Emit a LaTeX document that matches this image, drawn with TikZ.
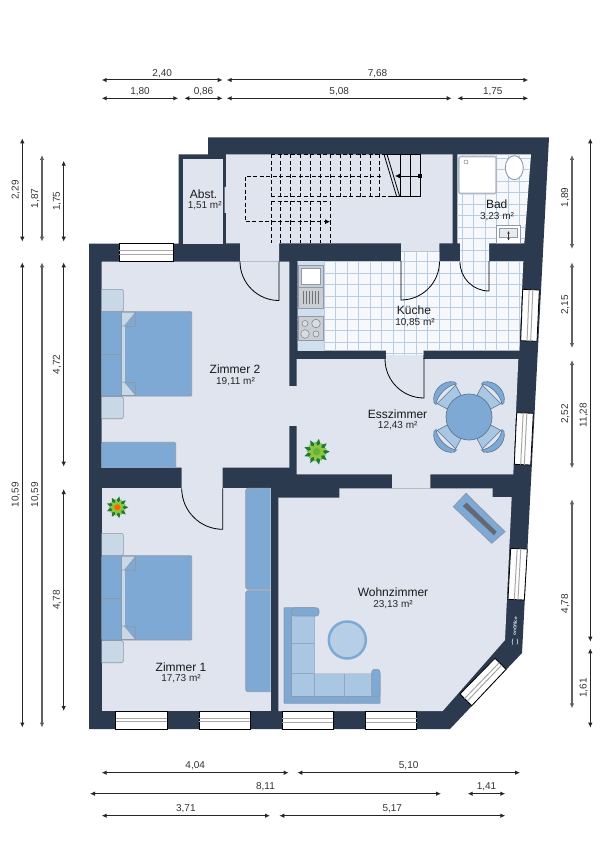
\documentclass[tikz,border=0pt]{standalone}
\usepackage{fontspec}
\setmainfont{Liberation Sans}
\usepackage{tikz}
\usetikzlibrary{calc}
\usetikzlibrary{arrows.meta}
\definecolor{wallblue}{HTML}{2C3A50}
\definecolor{roomgrey}{HTML}{DFE4EE}
\definecolor{bedblue}{HTML}{7FA9D5}
\definecolor{palegrey}{HTML}{C9D8E6}
\definecolor{seatblue}{HTML}{A9C6E3}
\definecolor{edgegrey}{HTML}{8D9AAB}
\definecolor{tileline}{HTML}{B8CDE3}
\definecolor{tilewhite}{HTML}{F6F8FC}
\definecolor{steel}{HTML}{C9CED5}
\definecolor{plantdark}{HTML}{1F7A3A}
\definecolor{plantlight}{HTML}{8CC63F}
\tikzset{
  dimtip/.tip={Latex[length=5pt,width=4.6pt]},
  dimline/.style={{dimtip}-{dimtip},line width=1pt,color=black!85},
  dimpale/.style={{dimtip}-{dimtip},line width=1.2pt,color=black!62},
  dimtext/.style={font=\fontsize{10}{12}\selectfont,text=black!80,inner sep=2pt,anchor=south},
  roomname/.style={font=\fontsize{12}{14}\selectfont,text=black!90,inner sep=0pt},
  roomarea/.style={font=\fontsize{10}{12}\selectfont,text=black!85,inner sep=0pt},
  room/.style={fill=roomgrey},
  doorline/.style={line width=0.8pt,color=black},
  winframe/.style={fill=white,draw=black,line width=0.8pt},
  winbar/.style={color=black!35,line width=1pt},
  furn/.style={fill=bedblue,draw=edgegrey,line width=0.8pt},
  furnpale/.style={fill=palegrey,draw=palegrey!70!black,line width=0.6pt},
  stairdash/.style={dashed,dash pattern=on 4pt off 2.5pt,line width=0.9pt},
  stairline/.style={line width=0.8pt},
  chairseat/.style={fill=seatblue,draw=bedblue!70!black,line width=0.6pt},
  chairback/.style={fill=bedblue,draw=bedblue!70!black,line width=0.6pt},
}
% dimension lines: name, fixed position, from, to, text
\newcommand\dimh[6][dimline]{\draw[#1] (#4,#3) -- (#5,#3) node[dimtext,midway] (#2) {#6};}
\newcommand\dimv[7][dimline]{\draw[#1] (#3,#5) -- (#3,#4) node[dimtext,rotate=90,pos=#6] (#2) {#7};}
\newcommand\winplan[4]{
\draw[winframe] (#1) -- (#2) -- (#3) -- (#4) -- cycle;
\foreach \t in {0.39,0.61} {
\draw[winbar] ($(#1)!\t!(#2)$) -- ($(#4)!\t!(#3)$);
}
}
\newcommand\tilegrid[4]{
\foreach \i in {#1,...,#2} {
\draw[tileline,line width=0.8pt] ({2+11.5*\i},140) -- ({2+11.5*\i},365);
}
\foreach \j in {#3,...,#4} {
\draw[tileline,line width=0.8pt] (285,{-2.7+11.5*\j}) -- (535,{-2.7+11.5*\j});
}
}
\newcommand\bedplan[1]{
\begin{scope}[shift={(0,#1)}]
\draw[furnpale,rounded corners=1.5pt] (101.7,289.3) -- (123.3,289.3) -- (123.3,311.7) -- (101.7,311.7);
\draw[furnpale,rounded corners=1.5pt] (101.7,396.5) -- (123.3,396.5) -- (123.3,418.7) -- (101.7,418.7);
\draw[furn,rounded corners=1pt] (101.7,311.7) rectangle (191.7,396);
\fill[palegrey] (121.7,312.2) rectangle (124.5,395.5);
\draw[furnpale,draw=edgegrey] (121.7,312.2) -- (135.7,312.2) -- (124.5,326) -- (121.7,326);
\draw[furnpale,draw=edgegrey] (121.7,395.5) -- (135.7,395.5) -- (124.5,382) -- (121.7,382);
\draw[edgegrey,line width=0.6pt] (124.5,326) -- (135.7,326) -- (135.7,312.2);
\draw[edgegrey,line width=0.6pt] (124.5,382) -- (135.7,382) -- (135.7,395.5);
\draw[edgegrey,line width=0.6pt] (101.7,354) -- (121.7,354) (121.7,311.7) -- (121.7,396);
\end{scope}
}
\newcommand\plantplan[4]{ % x, y, radius, core colour
\begin{scope}[shift={(#1,#2)}]
\foreach \a in {0,40,...,320} {
\fill[plantdark,rotate=\a] (#3,0) -- ({0.3*#3},{0.34*#3}) -- ({0.3*#3},{-0.34*#3}) -- cycle;
}
\foreach \a in {20,60,...,340} {
\fill[plantlight,rotate=\a] ({0.82*#3},0) -- ({0.2*#3},{0.25*#3}) -- ({0.2*#3},{-0.25*#3}) -- cycle;
}
\fill[#4] (0,0) circle ({0.28*#3});
\end{scope}
}
\begin{document}
\begin{tikzpicture}[x=1pt,y=-1pt]
\useasboundingbox (0,0) rectangle (600,850);
% walls
\fill[wallblue] (89,243.5) -- (178.5,243.5) -- (178.5,154.5) -- (208,154.5) -- (208,137.5) -- (549,137.5) -- (522,653) -- (450,729) -- (89,729) -- cycle;
% rooms
\fill[room] (183.3,159.3) rectangle (223.3,243.5);
\fill[room] (226,154.3) -- (452.7,154.3) -- (452.7,243.3) -- (439.3,243.3) -- (439.3,251.7) -- (401,251.7) -- (401,243.3) -- (279,243.3) -- (279,261.5) -- (240,261.5) -- (240,243.3) -- (226,243.3) -- (226,213) -- (224.5,213) -- (224.5,187) -- (226,187) -- cycle;
\fill[room] (101.7,261.5) -- (289.3,261.5) -- (289.3,467.7) -- (222.7,467.7) -- (222.7,488.3) -- (181.7,488.3) -- (181.7,467.7) -- (101.7,467.7) -- cycle;
\fill[room] (101.7,488.3) rectangle (270.7,711);
\fill[room] (289,386) rectangle (297.5,425.7);
\fill[room] (296.7,359) -- (386,359) -- (386,350.7) -- (423.3,350.7) -- (423.3,359) -- (518.3,359) -- (513.3,474.3) -- (430.3,474.3) -- (430.3,488.3) -- (392,488.3) -- (392,474.3) -- (296.7,474.3) -- cycle;
\fill[room] (278.3,497.7) -- (339.3,497.7) -- (339.3,488.3) -- (492.7,488.3) -- (492.7,497) -- (511.7,497) -- (505,640) -- (442.7,711) -- (278.3,711) -- cycle;
% tiles
\begin{scope}
\clip (297.7,261) -- (401,261) -- (401,251.7) -- (439.3,251.7) -- (439.3,261) -- (523.3,261) -- (519.3,350.7) -- (423.3,350.7) -- (423.3,355) -- (386,355) -- (386,350.7) -- (297.7,350.7) -- cycle;
\fill[tilewhite] (290,250) rectangle (530,360);
\tilegrid{25}{46}{22}{31}
\end{scope}
\begin{scope}
\clip (457.3,154.3) -- (531,154.3) -- (524.3,243.3) -- (489,243.3) -- (489,261) -- (460,261) -- (460,243.3) -- (457.3,243.3) -- cycle;
\fill[tilewhite] (450,150) rectangle (535,265);
\tilegrid{39}{46}{13}{23}
\end{scope}
% kitchen counter
\fill[palegrey!70!bedblue!60!white] (297.7,261) rectangle (324,350.7);
\draw[fill=steel,draw=edgegrey,line width=0.8pt] (298.3,265) rectangle (323.3,287);
\draw[fill=white,draw=edgegrey,line width=0.6pt] (301,268) rectangle (320.5,284);
\draw[fill=steel,draw=edgegrey,line width=0.8pt] (298.3,287) rectangle (323.3,308);
\foreach \x in {303,306,309,312,315,318} {
\draw[black!55,line width=0.6pt] (\x,291) -- (\x,304);
}
\draw[fill=steel,draw=edgegrey,line width=0.8pt] (298.3,316.7) rectangle (323.3,340.7);
\draw[fill=steel!70!white,draw=black!50,line width=0.5pt] (305,323.5) circle (3) (316,323.5) circle (4.3) (305,334) circle (4.3) (316,334) circle (3);
% bathroom
\draw[fill=white,draw=edgegrey!70!white,line width=1.6pt,rounded corners=2pt] (458.8,156.5) rectangle (496.2,193.5);
\draw[black!50,line width=0.5pt,fill=white] (466,162) circle (2);
\draw[fill=white,draw=edgegrey,line width=0.9pt] (514.3,167.7) ellipse (9 and 12);
\draw[fill=white,draw=edgegrey,line width=0.8pt] (496,225.7) rectangle (520.7,243.3);
\draw[fill=steel!40!white,draw=edgegrey,line width=0.5pt] (499.5,228.5) rectangle (517.5,237);
\draw[{Latex[length=2.5pt,width=2.5pt]}-{Latex[length=2.5pt,width=2.5pt]},line width=0.6pt,black!80] (508.5,231) -- (508.5,240.5);
% stairs
\foreach \i in {0,...,11} {
\draw[stairdash] ({271+9.9*\i},154.3) -- ({271+9.9*\i},196.7);
}
\foreach \i in {0,...,6} {
\draw[stairdash] ({271+9.9*\i},201) -- ({271+9.9*\i},243.3);
}
\draw[stairdash] (271,154.3) -- (384,154.3);
\draw[stairdash] (271,196.7) -- (388,196.7);
\draw[stairdash] (271,201) -- (330.4,201);
\draw[stairdash,-{Latex[length=5pt,width=5pt]}] (380.7,176) -- (245,176) -- (245,221.7) -- (330,221.7);
\foreach \x in {400,410,420} {
\draw[stairline] (\x,154.3) -- (\x,196.7);
}
\draw[stairline] (384,154.3) -- (420,154.3) (388,196.7) -- (420,196.7);
\draw[stairline] (384,154.3) -- (396.7,196.7) (387,154.3) -- (399.7,196.7);
\draw[stairline,-{Latex[length=5pt,width=5pt]}] (420,176) -- (395,176);
\fill (418.3,174.3) rectangle (421.7,177.7);
% doors
\draw[doorline] (279,261.5) -- (279,300.5) arc[start angle=90,end angle=180,radius=39];
\draw[doorline] (401,261) -- (401,300) arc[start angle=90,end angle=0,radius=38.5];
\draw[doorline] (489,261) -- (489,291) arc[start angle=90,end angle=180,radius=29];
\draw[doorline] (424,358) -- (424,398) arc[start angle=90,end angle=180,radius=39];
\draw[doorline] (222.7,488.3) -- (222.7,529.3) arc[start angle=90,end angle=180,radius=41];
% windows
\winplan{119.3,243.3}{119.3,261.5}{173.3,261.5}{173.3,243.3}
\winplan{115.7,711}{115.7,729}{167.3,729}{167.3,711}
\winplan{199.3,711}{199.3,729}{250.3,729}{250.3,711}
\winplan{282.3,711.5}{282.3,729}{333.3,729}{333.3,711.5}
\winplan{365.7,711.5}{365.7,729}{416.7,729}{416.7,711.5}
\winplan{460,694}{471.7,705.7}{506,669.3}{495,658.3}
\winplan{522.7,289.3}{539.3,290}{537,341.3}{520.7,340.7}
\winplan{516.7,412.7}{533.3,413.3}{530.7,465}{514.3,464.3}
\winplan{510.7,548.3}{527.3,549}{524.3,600}{508,599.3}
% beds and cupboards
\bedplan{0}
\bedplan{244}
\draw[furn,rounded corners=2pt] (101.7,467.7) -- (101.7,442.3) -- (175.7,442.3) -- (175.7,467.7);
\draw[furn,rounded corners=2.5pt] (270.7,488.3) -- (245.7,488.3) -- (245.7,589.3) -- (270.7,589.3);
\draw[furn,rounded corners=2.5pt] (270.7,590.7) -- (245.7,590.7) -- (245.7,691.7) -- (270.7,691.7);
% dining table
\foreach \a in {45,135,225,315} {
\begin{scope}[shift={(469,417)},rotate=\a]
\draw[chairseat] (15,-8) -- (32,-13) -- (32,13) -- (15,8) -- cycle;
\draw[chairback] (35,-14.5) .. controls (45,-8) and (45,8) .. (35,14.5) -- (32,14.5) .. controls (38,8) and (38,-8) .. (32,-14.5) -- cycle;
\end{scope}
}
\draw[fill=bedblue,draw=bedblue!70!black,line width=0.7pt] (469,417) circle (23);
% lowboard
\draw[furn] (466,493.3) -- (505,531.7) -- (491.7,543.3) -- (453.3,506.7) -- cycle;
\fill[black!60!wallblue!60!roomgrey] (466.7,502.7) -- (496.7,531.7) -- (494,535.3) -- (462.7,506) -- cycle;
% sofa
\draw[furn,rounded corners=0.5pt] (284,607.7) -- (314.3,607.7) -- (314.3,674) -- (380,674) -- (380,703.3) -- (284,703.3) -- cycle;
\fill[seatblue] (291.7,616) -- (314.3,616) -- (314.3,674) -- (371.7,674) -- (371.7,696.7) -- (291.7,696.7) -- cycle;
\draw[edgegrey,line width=0.5pt] (291.7,616) -- (291.7,696.7) -- (371.7,696.7);
\draw[seatblue!85!black,line width=0.5pt] (291.7,643.3) -- (314.3,643.3) (291.7,673.3) -- (314.3,673.3) (314.3,674) -- (314.3,696.7) (344,674) -- (344,696.7);
\draw[furn,rounded corners=3pt] (291.7,607.7) -- (319,607.7) -- (319,616) -- (291.7,616) -- cycle;
\draw[furn,rounded corners=3pt] (371.7,696.7) -- (371.7,669.3) -- (380,669.3) -- (380,696.7) -- cycle;
\draw[fill=seatblue!85!white,draw=bedblue,line width=2.5pt] (347.3,640) circle (18.5);
% plants
\plantplan{316.7}{451.7}{13}{plantlight!70!plantdark}
\plantplan{117.3}{507.3}{11}{orange!80!red}
% logo
\node[font=\fontsize{4.5}{5}\selectfont\bfseries,text=white!85!bedblue,rotate=85,inner sep=0pt] (logotext) at (515,626) {onOffice};
\draw[white!60!bedblue,line width=0.6pt] (513,638.5) .. controls (512,640.5) and (512,642.5) .. (512.5,644.5);
\draw[white!60!bedblue,line width=0.6pt] (517,638.5) .. controls (518,640.5) and (518,642.5) .. (517,644.5);
% room labels
\node[roomname] (abstname) at (203.5,194) {Abst.};
\node[roomarea] (abstarea) at (204.7,206) {1,51 m²};
\node[roomname] (badname) at (496.7,204) {Bad};
\node[roomarea] (badarea) at (497,217) {3,23 m²};
\node[roomname] (kuechename) at (414,310) {Küche};
\node[roomarea] (kuechearea) at (415,323) {10,85 m²};
\node[roomname] (zweiname) at (235,369) {Zimmer 2};
\node[roomarea] (zweiarea) at (235.5,381.5) {19,11 m²};
\node[roomname] (essname) at (397.5,414) {Esszimmer};
\node[roomarea] (essarea) at (397.7,426) {12,43 m²};
\node[roomname] (wohnname) at (393,592) {Wohnzimmer};
\node[roomarea] (wohnarea) at (393,604.5) {23,13 m²};
\node[roomname] (einsname) at (181,667) {Zimmer 1};
\node[roomarea] (einsarea) at (181,679) {17,73 m²};
% dimensions top
\dimh{ta}{80}{101.7}{222.7}{2,40}
\dimh{tb}{80}{226.7}{528.3}{7,68}
\dimh{tc}{98.3}{101.7}{178.3}{1,80}
\dimh{td}{98.3}{184.3}{222.7}{0,86}
\dimh{te}{98.3}{226.7}{451.7}{5,08}
\dimh{tf}{98.3}{457.3}{528.3}{1,75}
% dimensions bottom
\dimh{ba}{772.7}{101.7}{288.7}{4,04}
\dimh{bb}{772.7}{297.3}{520}{5,10}
\dimh{bc}{793.7}{90}{441}{8,11}
\dimh{bd}{793.7}{467.7}{505.3}{1,41}
\dimh{be}{815.7}{101.7}{270}{3,71}
\dimh{bf}{815.7}{279.3}{505.3}{5,17}
% dimensions left
\dimv{la}{22.3}{138.3}{241.7}{0.5}{2,29}
\dimv[dimpale]{lb}{42}{155}{241.7}{0.5}{1,87}
\dimv{lc}{63.7}{160.7}{241.7}{0.5}{1,75}
\dimv{ld}{22.3}{262.3}{727.5}{0.5}{10,59}
\dimv[dimpale]{le}{42}{262.3}{727.5}{0.5}{10,59}
\dimv{lf}{63.7}{262.3}{466.7}{0.5}{4,72}
\dimv{lg}{63.7}{489}{711}{0.5}{4,78}
% dimensions right
\dimv[dimpale]{ra}{572}{155}{249}{0.55}{1,89}
\dimv[dimpale]{rb}{572}{262.3}{348}{0.5}{2,15}
\dimv[dimpale]{rc}{572}{360}{468.3}{0.5}{2,52}
\dimv[dimpale]{rd}{572}{499.3}{708.3}{0.5}{4,78}
\dimv{re}{590.3}{138.3}{641.7}{0.45}{11,28}
\dimv{rf}{590.3}{648.3}{727.7}{0.5}{1,61}
\end{tikzpicture}
\end{document}
